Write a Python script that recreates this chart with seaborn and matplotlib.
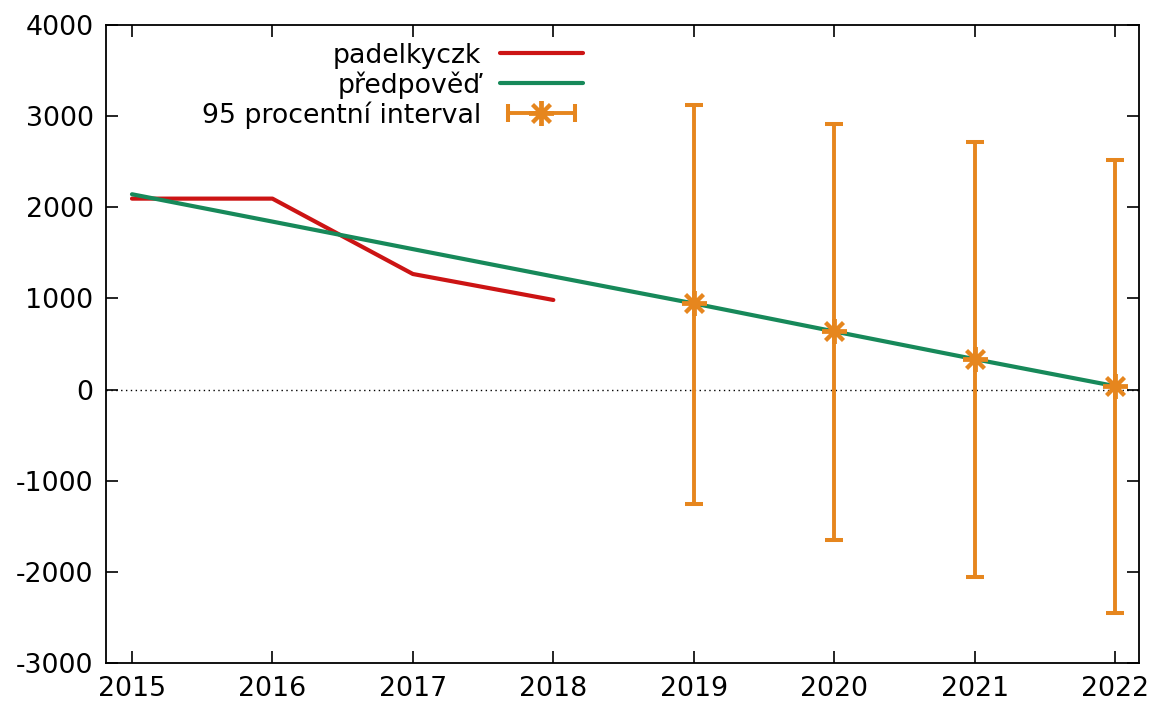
import matplotlib
matplotlib.use("Agg")
import matplotlib.pyplot as plt
import seaborn as sns
import pandas as pd
from matplotlib.lines import Line2D
from matplotlib.legend_handler import HandlerLine2D, HandlerTuple

# measured series
years_hist = [2015, 2016, 2017, 2018]
padelkyczk = [2095, 2095, 1268, 983]

years_pred = [2015, 2016, 2017, 2018, 2019, 2020, 2021, 2022]
predpoved = [2143, 1843, 1541, 1241, 945, 638, 334, 38]

years_ci = [2019, 2020, 2021, 2022]
ci_center = [945, 638, 334, 38]
ci_low = [-1259, -1650, -2053, -2455]
ci_high = [3123, 2914, 2713, 2519]

xticks = [2015, 2016, 2017, 2018, 2019, 2020, 2021, 2022]
yticks = [-3000, -2000, -1000, 0, 1000, 2000, 3000, 4000]

RED = "#cc1414"
GREEN = "#17895a"
ORANGE = "#e6861e"

sns.set_theme(style="ticks")
plt.rcParams['font.family'] = ['DejaVu Sans']

fig = plt.figure(figsize=(11.56, 7.06), dpi=100)
ax = fig.add_axes([106 / 1156, 43 / 706, 1033 / 1156, 638 / 706])

hist_df = pd.DataFrame({'year': years_hist, 'value': padelkyczk})
pred_df = pd.DataFrame({'year': years_pred, 'value': predpoved})

ax.axhline(0, color='black', linestyle=(0, (1, 2.5)), linewidth=1.0, zorder=1)
sns.lineplot(data=hist_df, x='year', y='value', color=RED, linewidth=3.0, ax=ax, zorder=3)
sns.lineplot(data=pred_df, x='year', y='value', color=GREEN, linewidth=3.0, ax=ax, zorder=3)

yerr = [[c - lo for c, lo in zip(ci_center, ci_low)],
        [hi - c for c, hi in zip(ci_center, ci_high)]]
ax.errorbar(years_ci, ci_center, yerr=yerr, fmt='none', ecolor=ORANGE,
            elinewidth=2.8, capsize=6.5, capthick=2.9, zorder=4)
ax.plot(years_ci, ci_center, linestyle='none', marker=(8, 2, 0), markersize=18,
        markeredgewidth=2.8, color=ORANGE, zorder=5)

ax.set_xlim(2014.815, 2022.17)
ax.set_ylim(-3000, 4000)
ax.set_xticks(xticks)
ax.set_yticks(yticks)
ax.set_xticklabels([str(v) for v in xticks])
ax.set_yticklabels([str(v) for v in yticks])
ax.set_xlabel('')
ax.set_ylabel('')
ax.tick_params(direction='in', length=8.5, width=1.2, labelsize=19.3,
               top=True, right=True, pad=9, colors='black')
for s in ax.spines.values():
    s.set_visible(True)
    s.set_linewidth(1.3)
    s.set_color('black')

# legend in gnuplot style: label then sample
h_red = Line2D([], [], color=RED, linewidth=3.0)
h_green = Line2D([], [], color=GREEN, linewidth=3.0)
h_bar = Line2D([], [], color=ORANGE, linewidth=2.8, marker='|', markersize=13,
               markeredgewidth=2.9)
h_star = Line2D([], [], color=ORANGE, linestyle='none', marker=(8, 2, 0),
                markersize=18, markeredgewidth=2.8)
leg = ax.legend([h_red, h_green, (h_bar, h_star)],
                ['padelkyczk', 'předpověď', '95 procentní interval'],
                handler_map={h_bar: HandlerLine2D(numpoints=2),
                             h_star: HandlerLine2D(numpoints=1),
                             tuple: HandlerTuple(ndivide=1, pad=0)},
                loc='upper right', bbox_to_anchor=(0.4618, 0.972),
                markerfirst=False, frameon=False, fontsize=19.3,
                handlelength=3.1, handletextpad=0.7, labelspacing=0.09,
                borderpad=0, borderaxespad=0)
for t in leg.get_texts():
    t.set_color('black')

fig.savefig('out.png', dpi=100)
